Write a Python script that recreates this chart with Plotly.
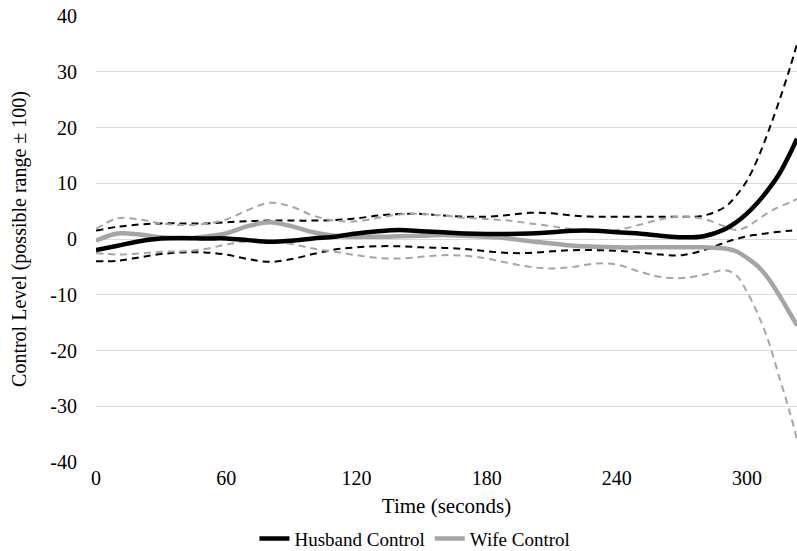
import plotly.graph_objects as go

time_s = [0,10,20,30,40,50,60,70,80,90,100,110,120,130,140,150,160,170,180,190,200,
          210,220,230,240,250,260,270,280,290,295,300,305,310,315,320,323]

husband_mean = [-2.0,-1.2,-0.4,0.1,0.2,0.1,0.1,-0.2,-0.5,-0.3,0.1,0.4,1.0,1.4,1.6,1.4,1.2,1.0,0.9,0.9,1.0,
                1.2,1.5,1.5,1.2,1.0,0.6,0.3,0.5,1.8,3.0,4.6,6.6,9.0,11.8,15.5,18.0]
husband_upper = [1.5,2.2,2.6,2.8,2.8,2.8,3.0,3.2,3.3,3.3,3.3,3.4,3.7,4.2,4.5,4.5,4.2,4.0,4.0,4.3,4.7,
                 4.6,4.2,4.0,4.0,4.0,4.0,4.0,4.2,5.8,7.8,10.5,14.5,19.5,25.0,31.0,35.0]
husband_lower = [-4.0,-3.9,-3.3,-2.7,-2.4,-2.4,-2.8,-3.6,-4.1,-3.6,-2.7,-1.9,-1.5,-1.3,-1.3,-1.5,-1.6,-1.8,-2.2,-2.5,-2.5,
                 -2.2,-2.0,-2.0,-2.1,-2.4,-2.8,-2.9,-2.0,-0.6,0.0,0.5,0.8,1.1,1.3,1.5,1.6]

wife_mean = [-0.3,1.0,0.8,0.3,0.1,0.4,1.0,2.3,3.0,2.3,1.2,0.6,0.4,0.4,0.5,0.6,0.7,0.6,0.4,0.1,-0.4,
             -0.8,-1.2,-1.4,-1.5,-1.5,-1.5,-1.5,-1.5,-1.7,-2.2,-3.4,-4.9,-7.2,-10.2,-13.5,-15.5]
wife_upper = [1.8,3.7,3.5,2.8,2.5,2.7,3.5,5.2,6.5,5.8,4.2,3.3,3.2,3.8,4.4,4.5,4.2,3.8,3.6,3.3,2.8,
              2.3,1.7,1.3,1.6,2.5,3.5,4.0,3.6,2.2,1.6,2.2,3.5,4.8,5.8,6.6,7.2]
wife_lower = [-2.5,-2.8,-2.6,-2.3,-2.2,-1.8,-1.0,-0.4,-0.3,-0.9,-1.7,-2.3,-2.9,-3.4,-3.5,-3.2,-2.9,-3.0,-3.5,-4.3,-5.0,
              -5.3,-5.0,-4.4,-4.6,-5.8,-6.8,-7.0,-6.4,-5.6,-6.5,-9.5,-13.5,-18.5,-25.0,-31.5,-36.0]

x_ticks = [0, 60, 120, 180, 240, 300]
y_ticks = [-40, -30, -20, -10, 0, 10, 20, 30, 40]
y_ticktext = ["-40", "-30", "-20", "-10", "0", "10", "20", "30", "40"]

BLACK = "#000000"
GRAY = "#a5a5a5"
FONT = "Liberation Serif"

fig = go.Figure()
dash = "7px,5px"
for ys, col in [(husband_upper, BLACK), (husband_lower, BLACK), (wife_upper, GRAY), (wife_lower, GRAY)]:
    fig.add_trace(go.Scatter(x=time_s, y=ys, mode="lines", showlegend=False, hoverinfo="skip",
                             line=dict(color=col, width=2, dash=dash, shape="spline", smoothing=1.0)))
fig.add_trace(go.Scatter(x=time_s, y=wife_mean, mode="lines", name="Wife Control",
                         line=dict(color=GRAY, width=4.5, shape="spline", smoothing=1.0)))
fig.add_trace(go.Scatter(x=time_s, y=husband_mean, mode="lines", name="Husband Control",
                         line=dict(color=BLACK, width=4.5, shape="spline", smoothing=1.0)))

fig.update_layout(
    width=797, height=551,
    margin=dict(l=96, r=0, t=16, b=89, autoexpand=False),
    paper_bgcolor="white", plot_bgcolor="white",
    font=dict(family=FONT, size=20, color="#000000"),
    showlegend=True,
    legend=dict(orientation="h", x=0.455, xanchor="center", y=-0.172, yanchor="middle",
                traceorder="reversed", font=dict(family=FONT, size=19), itemwidth=30,
                tracegroupgap=0),
    xaxis=dict(range=[0, 323], tickvals=x_ticks, showgrid=False, zeroline=False, showline=False,
               automargin=False,
               ticks="", tickfont=dict(family=FONT, size=20), ticklabelstandoff=2,
               title=dict(text="Time (seconds)", font=dict(family=FONT, size=21), standoff=10)),
    yaxis=dict(range=[-40, 40], tickvals=y_ticks, ticktext=y_ticktext, showgrid=True,
               gridcolor="#d9d9d9", gridwidth=1, automargin=False,
               zeroline=False, showline=False, ticks="", ticklabelstandoff=18,
               tickfont=dict(family=FONT, size=20),
               title=dict(text="Control Level (possible range ± 100)", font=dict(family=FONT, size=20), standoff=18)),
)

fig.write_html("out.html")
